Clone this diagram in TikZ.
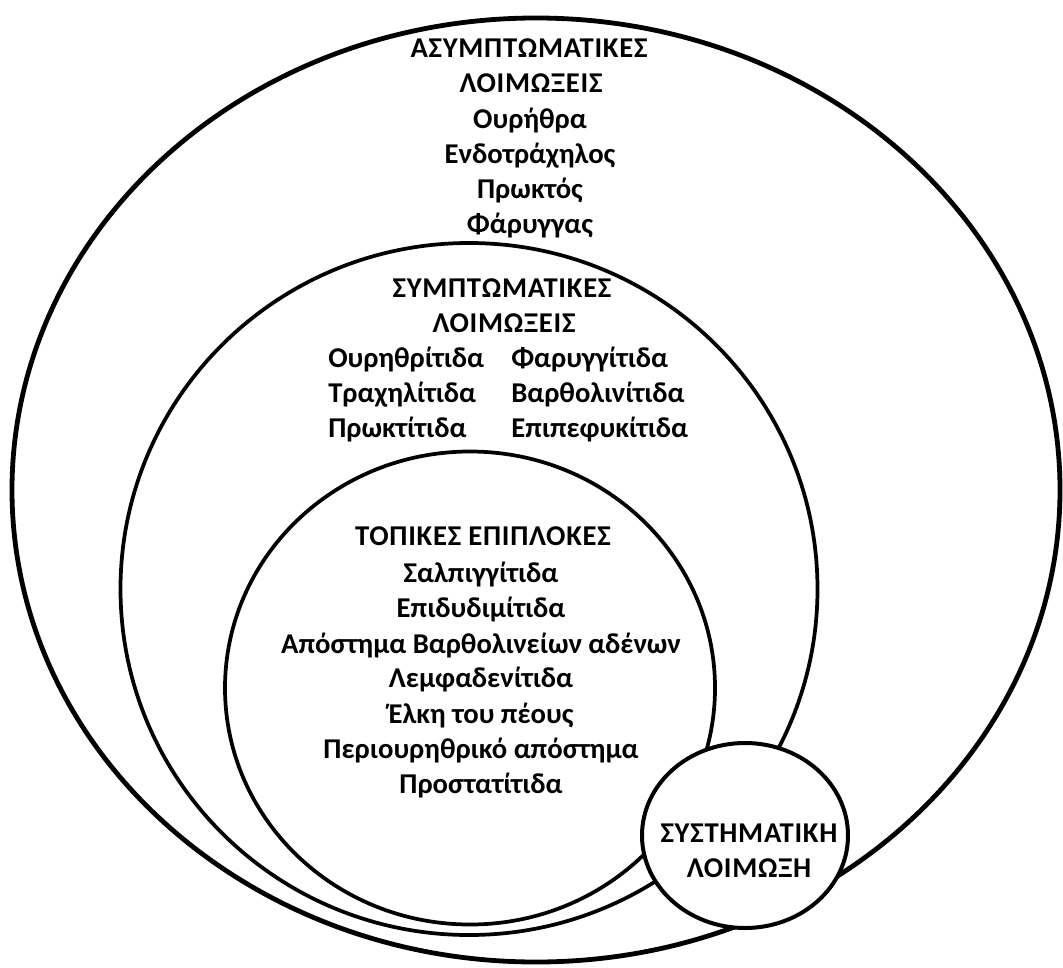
\documentclass[tikz,border=0pt]{standalone}
\usepackage{fontspec}
\setmainfont{Carlito}
\usetikzlibrary{shapes.geometric}
\begin{document}
\begin{tikzpicture}[x=0.75pt,y=-0.75pt,
  ring/.style={draw=black,ellipse,inner sep=0pt,line width=2.8pt},
  lbl/.style={font=\fontsize{21.5}{24}\selectfont\bfseries,inner sep=0pt,anchor=base,text=black},
  caps/.style={lbl,font=\fontsize{21.5}{24}\selectfont\bfseries\addfontfeature{LetterSpace=2.5}},
  lblw/.style={lbl,anchor=base west}]
\useasboundingbox[fill=white] (0,0) rectangle (1063,967);
% circles
\node[ring,line width=3.6pt,minimum width=786pt,minimum height=708pt] (outer) at (536,490) {};
\node[ring,minimum width=522.75pt,minimum height=519pt] (middle) at (469,589) {};
\node[ring,minimum width=367.5pt,minimum height=354.75pt] (inner) at (470,688) {};
\node[ring,fill=white,line width=3pt,minimum width=154.5pt,minimum height=138.75pt] (sys) at (745,835.5) {};
% asymptomatic
\node[caps] (a1) at (529,57) {ΑΣΥΜΠΤΩΜΑΤΙΚΕΣ};
\node[caps] (a2) at (531,92) {ΛΟΙΜΩΞΕΙΣ};
\foreach \t/\y [count=\i from 3] in {Ουρήθρα/128,Ενδοτράχηλος/163,Πρωκτός/198,Φάρυγγας/233}
  \node[lbl] (a\i) at (530,\y) {\t};
% symptomatic
\node[caps] (s1) at (502,297) {ΣΥΜΠΤΩΜΑΤΙΚΕΣ};
\node[caps] (s2) at (504,332) {ΛΟΙΜΩΞΕΙΣ};
\foreach \l/\r/\y [count=\i] in {Ουρηθρίτιδα/Φαρυγγίτιδα/367,Τραχηλίτιδα/Βαρθολινίτιδα/402,Πρωκτίτιδα/Επιπεφυκίτιδα/437}{
  \node[lblw] (sl\i) at (328,\y) {\l};
  \node[lblw] (sr\i) at (511,\y) {\r};
}
% local complications
\node[caps] (t1) at (483,545) {ΤΟΠΙΚΕΣ ΕΠΙΠΛΟΚΕΣ};
\foreach \t/\y [count=\i from 2] in {Σαλπιγγίτιδα/582,Επιδυδιμίτιδα/617,Απόστημα Βαρθολινείων αδένων/653,Λεμφαδενίτιδα/687,Έλκη του πέους/723,Περιουρηθρικό απόστημα/758,Προστατίτιδα/793}
  \node[lbl] (t\i) at (481,\y) {\t};
% systemic
\node[caps] (y1) at (749,842) {ΣΥΣΤΗΜΑΤΙΚΗ};
\node[caps] (y2) at (749,877) {ΛΟΙΜΩΞΗ};
\end{tikzpicture}
\end{document}
